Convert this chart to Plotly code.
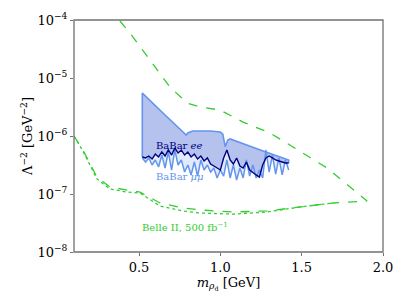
import plotly.graph_objects as go

# Belle II projection (dashed), lower branch then upper branch
belle_x = [0.1, 0.155, 0.241, 0.321, 0.426, 0.506, 0.629, 0.770, 0.875, 1.078, 1.287, 1.490, 1.693, 1.902,
           1.656, 1.447, 1.305, 1.139, 0.998, 0.875, 0.795, 0.690, 0.567, 0.444, 0.377, 0.36]
belle_y = [1.0e-6, 5.74e-7, 1.96e-7, 1.32e-7, 1.17e-7, 1.08e-7, 7.0e-8, 5.74e-8, 5.3e-8, 4.9e-8, 5.1e-8, 5.97e-8, 7.0e-8, 7.57e-8,
           2.81e-7, 6.46e-7, 1.13e-6, 1.74e-6, 2.81e-6, 3.16e-6, 3.71e-6, 7.0e-6, 2.04e-5, 5.97e-5, 1.0e-4, 1.2e-4]

# Belle II dotted variant (lower branch)
belle2_x = [0.1, 0.155, 0.241, 0.321, 0.426, 0.506, 0.629, 0.770, 0.875, 1.078, 1.287, 1.490, 1.693]
belle2_y = [1.0e-6, 5.5e-7, 1.82e-7, 1.22e-7, 1.08e-7, 1.04e-7, 6.2e-8, 5.1e-8, 4.7e-8, 4.5e-8, 4.9e-8, 5.97e-8, 7.0e-8]

# BaBar upper envelope
up_x = [0.52, 0.66, 0.79, 0.80, 0.83, 0.94, 1.00, 1.015, 1.03, 1.045, 1.06, 1.25, 1.42]
up_y = [5.5e-6, 2.3e-6, 1.04e-6, 1.13e-6, 1.22e-6, 1.22e-6, 1.17e-6, 1.08e-6, 6.5e-7, 8.5e-7, 8.9e-7, 5.7e-7, 3.85e-7]

# BaBar jagged limits
bb_x = [0.52, 0.54, 0.56, 0.58, 0.60, 0.62, 0.64, 0.66, 0.68, 0.70, 0.72, 0.74, 0.76, 0.78, 0.80, 0.82,
        0.84, 0.86, 0.88, 0.90, 0.92, 0.94, 0.96, 0.98, 1.00, 1.02, 1.04, 1.06, 1.08, 1.10, 1.12, 1.14,
        1.16, 1.18, 1.20, 1.22, 1.24, 1.26, 1.28, 1.30, 1.32, 1.34, 1.36, 1.38, 1.40, 1.42]
ee_y = [4.35, 4.18, 4.52, 4.01, 4.89, 4.35, 5.30, 4.52, 5.74, 4.70, 6.21, 5.09, 5.74, 4.70, 5.30, 4.35,
        4.89, 4.01, 4.52, 3.71, 4.18, 3.29, 3.04, 2.81, 2.59, 4.18, 5.74, 3.86, 3.29, 4.18, 3.04, 2.81,
        3.56, 2.59, 2.39, 2.13, 1.96, 3.16, 4.18, 4.52, 4.18, 3.86, 3.71, 3.56, 3.42, 3.42]
mm_y = [4.18, 3.56, 4.18, 3.16, 3.86, 2.92, 4.70, 2.81, 5.30, 2.59, 5.74, 3.16, 3.86, 2.39, 3.16, 2.13,
        3.56, 2.04, 3.86, 2.59, 3.16, 2.39, 2.81, 1.89, 2.59, 2.04, 3.86, 1.89, 3.16, 1.74, 2.81, 1.89,
        3.86, 2.04, 3.16, 1.89, 2.59, 1.89, 5.74, 2.39, 4.70, 2.21, 4.18, 2.13, 3.86, 2.59]
ee_y = [v * 1e-7 for v in ee_y]
mm_y = [v * 1e-7 for v in mm_y]

y_tickvals = [1e-8, 1e-7, 1e-6, 1e-5, 1e-4]
y_ticktext = ["10<sup>−8</sup>", "10<sup>−7</sup>", "10<sup>−6</sup>", "10<sup>−5</sup>", "10<sup>−4</sup>"]
x_tickvals = [0.5, 1.0, 1.5, 2.0]
x_ticktext = ["0.5", "1.0", "1.5", "2.0"]

GREEN = "#32CD32"
CB = "#6495ED"
NAVY = "#000080"
SPINE = "#707070"

fig = go.Figure()

# mu mu fill (light)
fig.add_trace(go.Scatter(x=up_x + bb_x[::-1], y=up_y + mm_y[::-1], fill="toself",
                         fillcolor="rgba(100,149,237,0.20)", line=dict(width=0), mode="lines",
                         hoverinfo="skip", showlegend=False))
# ee fill (darker)
fig.add_trace(go.Scatter(x=up_x + bb_x[::-1], y=up_y + ee_y[::-1], fill="toself",
                         fillcolor="rgba(70,90,200,0.28)", line=dict(width=0), mode="lines",
                         hoverinfo="skip", showlegend=False))
# upper envelope
fig.add_trace(go.Scatter(x=[bb_x[0]] + up_x + [up_x[-1]], y=[ee_y[0]] + up_y + [ee_y[-1]],
                         mode="lines", line=dict(color=CB, width=1.6), showlegend=False))
fig.add_trace(go.Scatter(x=bb_x, y=mm_y, mode="lines", line=dict(color=CB, width=1.5), showlegend=False))
fig.add_trace(go.Scatter(x=bb_x, y=ee_y, mode="lines", line=dict(color=NAVY, width=1.4), showlegend=False))

fig.add_trace(go.Scatter(x=belle2_x, y=belle2_y, mode="lines",
                         line=dict(color=GREEN, width=1.3, dash="dot"), showlegend=False))
fig.add_trace(go.Scatter(x=belle_x, y=belle_y, mode="lines",
                         line=dict(color=GREEN, width=1.3, dash="dash"), showlegend=False))

FONT = "DejaVu Serif, serif"
fig.add_annotation(x=0.75, y=-6.17, text="BaBar <i>ee</i>", showarrow=False,
                   font=dict(family=FONT, size=10, color=NAVY))
fig.add_annotation(x=0.75, y=-6.69, text="BaBar <i>μμ</i>", showarrow=False,
                   font=dict(family=FONT, size=10, color=CB))
fig.add_annotation(x=0.78, y=-7.57, text="Belle II, 500 fb<sup>−1</sup>", showarrow=False,
                   font=dict(family=FONT, size=10, color=GREEN))

# axes frame
fig.add_shape(type="rect", xref="paper", yref="paper", x0=0, x1=1, y0=0, y1=1,
              line=dict(color=SPINE, width=1.3), fillcolor="rgba(0,0,0,0)", layer="above")

axis_common = dict(showgrid=False, zeroline=False, showline=False,
                   ticks="outside", tickcolor=SPINE, ticklen=3, tickwidth=1,
                   automargin=False,
                   tickfont=dict(family=FONT, size=13, color="black"))
fig.update_xaxes(range=[0.1, 2.0], tickvals=x_tickvals, ticktext=x_ticktext,
                 title=dict(text="<i>m</i><sub><i>ρ</i><sub>d</sub></sub> [GeV]",
                            font=dict(family=FONT, size=13, color="black"), standoff=1),
                 **axis_common)
fig.update_yaxes(type="log", range=[-8, -4], tickvals=y_tickvals, ticktext=y_ticktext,
                 title=dict(text="Λ<sup>−2</sup> [GeV<sup>−2</sup>]",
                            font=dict(family=FONT, size=13, color="black")),
                 **axis_common)
fig.update_layout(template="none", width=411, height=308, margin=dict(l=74, r=28, t=20, b=56),
                  plot_bgcolor="white", paper_bgcolor="white", font=dict(family=FONT))
fig.write_html("out.html", config={"displayModeBar": False},
               post_script="document.body.style.margin='0';document.body.style.overflow='hidden';")
